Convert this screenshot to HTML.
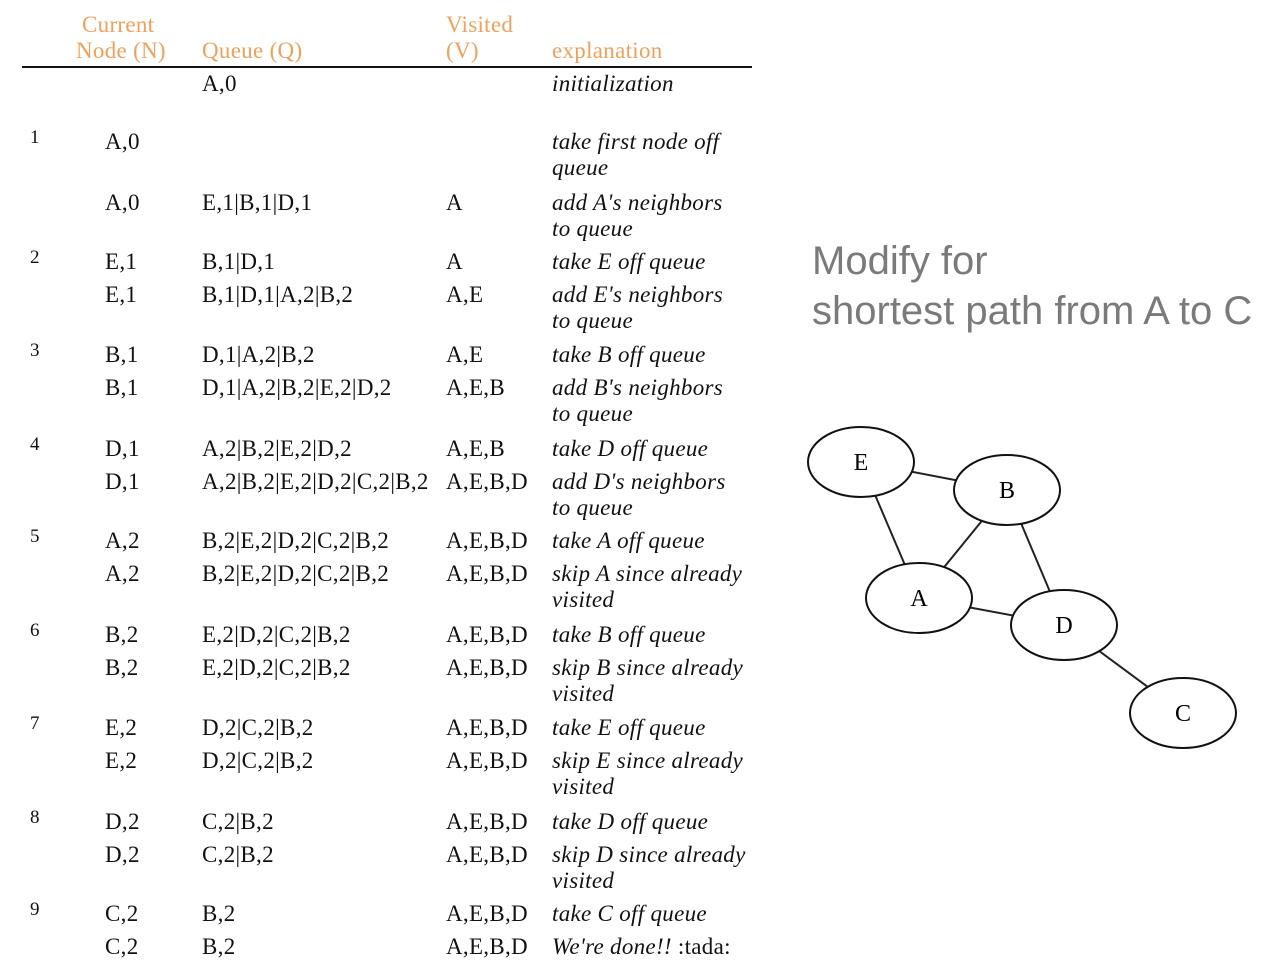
<!DOCTYPE html>
<html><head><meta charset="utf-8">
<style>
body{margin:0;width:1278px;height:970px;background:#fff;position:relative;overflow:hidden;font-family:"Liberation Serif",serif;color:#111}
.t{position:absolute;font-size:23px;letter-spacing:0.3px;line-height:26px;white-space:nowrap}
.h{color:#f0a05a}
.n{font-size:19px}
.i{font-style:italic}
.side{position:absolute;left:812px;font-family:"Liberation Sans",sans-serif;font-size:40px;color:#7a7a7a;line-height:44px;white-space:nowrap}
</style></head><body>
<div class="t h" style="left:82px;top:12px">Current</div>
<div class="t h" style="left:76px;top:38px">Node (N)</div>
<div class="t h" style="left:202px;top:38px">Queue (Q)</div>
<div class="t h" style="left:446px;top:12px">Visited</div>
<div class="t h" style="left:446px;top:38px">(V)</div>
<div class="t h" style="left:552px;top:38px">explanation</div>
<div style="position:absolute;left:22px;top:66px;width:730px;height:2px;background:#111"></div>
<div id="tbl"></div>
<div class="side" style="top:239px">Modify for</div>
<div class="side" style="top:289px">shortest path from A to C</div>
<svg id="g" width="1278" height="970" style="position:absolute;left:0;top:0"></svg>
<script>
// rows: [stepNum, y, N, Q, V, expl1, expl2]
const rows = [
 ["",84,"","A,0","","initialization",""],
 ["1",142,"A,0","","","take first node off","queue"],
 ["",203,"A,0","E,1|B,1|D,1","A","add A's neighbors","to queue"],
 ["2",262,"E,1","B,1|D,1","A","take E off queue",""],
 ["",295,"E,1","B,1|D,1|A,2|B,2","A,E","add E's neighbors","to queue"],
 ["3",355,"B,1","D,1|A,2|B,2","A,E","take B off queue",""],
 ["",388,"B,1","D,1|A,2|B,2|E,2|D,2","A,E,B","add B's neighbors","to queue"],
 ["4",449,"D,1","A,2|B,2|E,2|D,2","A,E,B","take D off queue",""],
 ["",482,"D,1","A,2|B,2|E,2|D,2|C,2|B,2","A,E,B,D","add D's neighbors","to queue"],
 ["5",541,"A,2","B,2|E,2|D,2|C,2|B,2","A,E,B,D","take A off queue",""],
 ["",574,"A,2","B,2|E,2|D,2|C,2|B,2","A,E,B,D","skip A since already","visited"],
 ["6",635,"B,2","E,2|D,2|C,2|B,2","A,E,B,D","take B off queue",""],
 ["",668,"B,2","E,2|D,2|C,2|B,2","A,E,B,D","skip B since already","visited"],
 ["7",728,"E,2","D,2|C,2|B,2","A,E,B,D","take E off queue",""],
 ["",761,"E,2","D,2|C,2|B,2","A,E,B,D","skip E since already","visited"],
 ["8",822,"D,2","C,2|B,2","A,E,B,D","take D off queue",""],
 ["",855,"D,2","C,2|B,2","A,E,B,D","skip D since already","visited"],
 ["9",914,"C,2","B,2","A,E,B,D","take C off queue",""],
 ["",947,"C,2","B,2","A,E,B,D","We're done!! <span style='font-style:normal'>:tada:</span>",""]
];
const tbl=document.getElementById('tbl');
function add(txt,x,y,cls,name){
  if(!txt) return;
  const d=document.createElement('div');
  d.className='t '+cls;
  d.style.left=x+'px';d.style.top=(y-13)+'px';
  d.innerHTML=txt;
  
  
  tbl.appendChild(d);
}
rows.forEach(r=>{
  add(r[0],30,r[1]-4,'n','step-number');
  add(r[2],105,r[1],'','current-node');
  add(r[3],202,r[1],'','queue');
  add(r[4],446,r[1],'','visited');
  add(r[5],552,r[1],'i','explanation');
  add(r[6],552,r[1]+26,'i','explanation-cont');
});
const nodes={E:[861,462],B:[1007,490],A:[919,598],D:[1064,625],C:[1183,713]};
const edges=[["E","B"],["E","A"],["B","A"],["B","D"],["A","D"],["D","C"]];
const g=document.getElementById('g'),NS="http://www.w3.org/2000/svg";
edges.forEach(e=>{
  const l=document.createElementNS(NS,'line');
  l.setAttribute('x1',nodes[e[0]][0]);l.setAttribute('y1',nodes[e[0]][1]);
  l.setAttribute('x2',nodes[e[1]][0]);l.setAttribute('y2',nodes[e[1]][1]);
  l.setAttribute('stroke','#222');l.setAttribute('stroke-width','2');
  
  
  g.appendChild(l);
});
Object.keys(nodes).forEach(k=>{
  const el=document.createElementNS(NS,'ellipse');
  el.setAttribute('cx',nodes[k][0]);el.setAttribute('cy',nodes[k][1]);
  el.setAttribute('rx',53);el.setAttribute('ry',35);
  el.setAttribute('fill','#fff');el.setAttribute('stroke','#111');el.setAttribute('stroke-width','2');
  
  
  g.appendChild(el);
  const t=document.createElementNS(NS,'text');
  t.setAttribute('x',nodes[k][0]);t.setAttribute('y',nodes[k][1]+8);
  t.setAttribute('text-anchor','middle');t.setAttribute('font-size','24');
  t.setAttribute('font-family','Liberation Serif, serif');
  t.textContent=k;
  
  
  g.appendChild(t);
});
</script>
</body></html>
